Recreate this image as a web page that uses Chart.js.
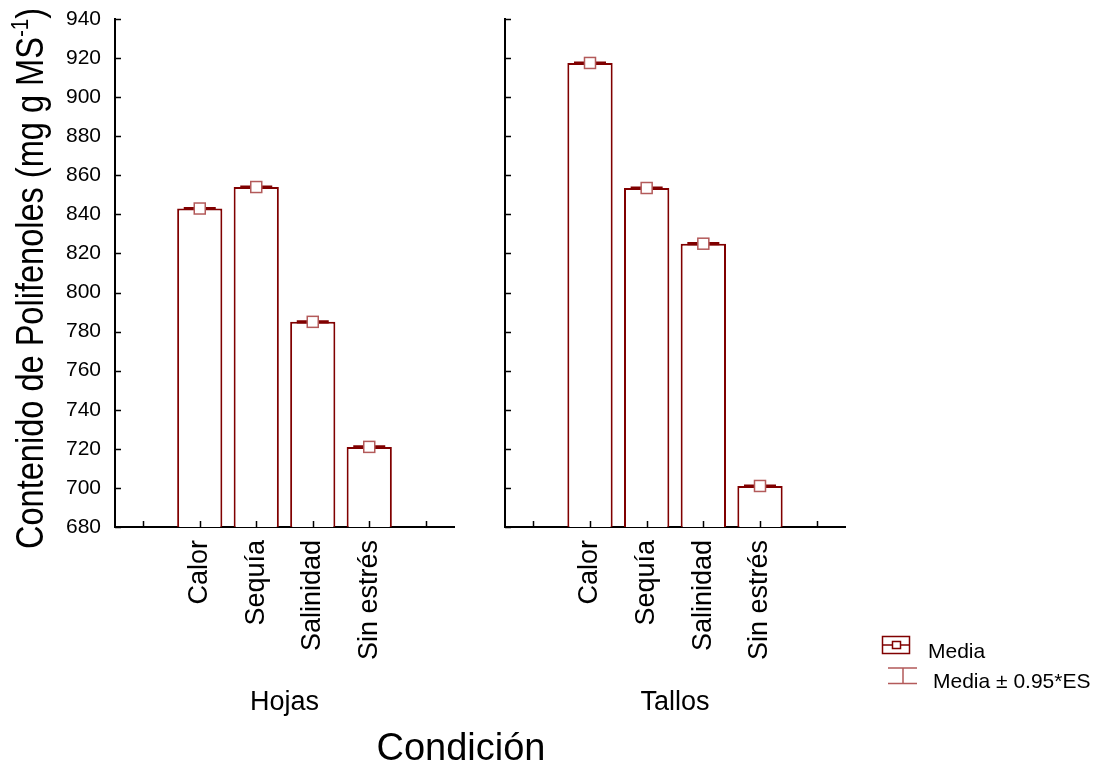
<!DOCTYPE html>
<html lang="es">
<head>
<meta charset="UTF-8">
<title>Contenido de Polifenoles</title>
<style>
  body { margin: 0; background: #fff; }
  #lienzo { position: relative; width: 1104px; height: 765px; }
  #lienzo canvas { position: absolute; left: 0; top: 0; }
</style>
</head>
<body>
<div id="lienzo">
  <canvas id="graficoHojas" width="1104" height="765"></canvas>
  <canvas id="graficoTallos" width="1104" height="765"></canvas>
</div>
<script src="https://cdn.jsdelivr.net/npm/chart.js"></script>
<script>
  // datos (las posiciones vacías dejan medio hueco a cada lado, como en el original)
  const categorias = ['', 'Calor', 'Sequía', 'Salinidad', 'Sin estrés', ''];
  const mediaHojas = [null, 843, 854, 785, 721, null];
  const mediaTallos = [null, 917.5, 853.5, 825, 701, null];
  const errorHojas = [null, 0.3, 0.3, 0.3, 0.3, null];
  const errorTallos = [null, 0.3, 0.3, 0.3, 0.3, null];
  const ejeY = { min: 680, max: 940, paso: 20 };

  const rojo = '#800000';
  const rosa = '#b35a5a';
  const fuente = '"Liberation Sans", Arial, sans-serif';
  Chart.defaults.font.family = fuente;
  Chart.defaults.color = '#000';

  // media (cuadrado) y barras de error
  const marcas = {
    id: 'marcas',
    afterDatasetsDraw(chart, args, opts) {
      const ctx = chart.ctx;
      const y = chart.scales.y;
      const datos = chart.data.datasets[0].data;
      chart.getDatasetMeta(0).data.forEach((barra, i) => {
        const v = datos[i];
        if (v == null) return;
        const e = opts.errores[i];
        const x = barra.x;
        const ya = y.getPixelForValue(v + e);
        const yb = y.getPixelForValue(v - e);
        ctx.save();
        ctx.strokeStyle = rojo;
        ctx.lineWidth = 2;
        ctx.beginPath();
        ctx.moveTo(x - 16, ya); ctx.lineTo(x + 16, ya);
        ctx.moveTo(x - 16, yb); ctx.lineTo(x + 16, yb);
        ctx.moveTo(x, ya); ctx.lineTo(x, yb);
        ctx.stroke();
        const ym = y.getPixelForValue(v);
        ctx.fillStyle = '#fff';
        ctx.fillRect(x - 5.5, ym - 5.5, 11, 11);
        ctx.strokeStyle = rosa;
        ctx.lineWidth = 1.5;
        ctx.strokeRect(x - 5.5, ym - 5.5, 11, 11);
        ctx.restore();
      });
    }
  };

  // marcas de los ejes hacia dentro
  const marcasEje = {
    id: 'marcasEje',
    afterDraw(chart) {
      const ctx = chart.ctx;
      const x = chart.scales.x;
      const y = chart.scales.y;
      const area = chart.chartArea;
      ctx.save();
      ctx.strokeStyle = '#000';
      ctx.lineWidth = 1.5;
      ctx.beginPath();
      y.ticks.forEach((t, i) => {
        const py = Math.round(y.getPixelForTick(i)) + 0.5;
        ctx.moveTo(area.left, py); ctx.lineTo(area.left + 6, py);
      });
      x.ticks.forEach((t, i) => {
        const px = Math.round(x.getPixelForTick(i)) + 0.5;
        ctx.moveTo(px, area.bottom); ctx.lineTo(px, area.bottom - 6);
      });
      ctx.stroke();
      ctx.restore();
    }
  };

  // título del eje Y con superíndice
  const tituloY = {
    id: 'tituloY',
    afterDraw(chart) {
      const ctx = chart.ctx;
      const texto = 'Contenido de Polifenoles (mg g MS';
      const sup = '-1';
      const cierre = ')';
      ctx.save();
      ctx.fillStyle = '#000';
      ctx.font = '38px ' + fuente;
      const w1 = ctx.measureText(texto).width;
      const w3 = ctx.measureText(cierre).width;
      ctx.font = '24px ' + fuente;
      const w2 = ctx.measureText(sup).width;
      const escala = 541 / (w1 + w2 + w3);
      ctx.translate(43, 549);
      ctx.rotate(-Math.PI / 2);
      ctx.scale(escala, 1);
      ctx.textBaseline = 'alphabetic';
      ctx.font = '38px ' + fuente;
      ctx.fillText(texto, 0, 0);
      ctx.fillText(cierre, w1 + w2, 0);
      ctx.font = '24px ' + fuente;
      ctx.fillText(sup, w1, -15);
      ctx.restore();
    }
  };

  // leyenda y título común del eje X
  const extras = {
    id: 'extras',
    afterDraw(chart) {
      const ctx = chart.ctx;
      ctx.save();
      ctx.fillStyle = '#000';
      ctx.font = '38px ' + fuente;
      ctx.textAlign = 'center';
      ctx.textBaseline = 'alphabetic';
      ctx.fillText('Condición', 461, 760);

      ctx.strokeStyle = rojo;
      ctx.lineWidth = 1.5;
      ctx.strokeRect(882.5, 636.5, 27, 17);
      ctx.beginPath();
      ctx.moveTo(882, 645); ctx.lineTo(892, 645);
      ctx.moveTo(901, 645); ctx.lineTo(910, 645);
      ctx.stroke();
      ctx.strokeRect(892.5, 641.5, 8, 7);

      ctx.strokeStyle = rosa;
      ctx.beginPath();
      ctx.moveTo(888, 668); ctx.lineTo(917, 668);
      ctx.moveTo(888, 683.5); ctx.lineTo(917, 683.5);
      ctx.moveTo(903, 668); ctx.lineTo(903, 683);
      ctx.stroke();

      ctx.font = '21px ' + fuente;
      ctx.textAlign = 'left';
      ctx.fillText('Media', 928, 658);
      ctx.fillText('Media ± 0.95*ES', 933, 688);
      ctx.restore();
    }
  };

  function crearGrafico(id, medias, errores, grupo, etiquetasY, padding, anchoY, plugins) {
    return new Chart(document.getElementById(id), {
      type: 'bar',
      data: {
        labels: categorias,
        datasets: [{
          data: medias,
          backgroundColor: '#ffffff',
          borderColor: rojo,
          borderWidth: 2,
          borderSkipped: false,
          barPercentage: 0.8,
          categoryPercentage: 1
        }]
      },
      options: {
        responsive: false,
        animation: false,
        layout: { padding: padding },
        plugins: {
          legend: { display: false },
          tooltip: { enabled: false },
          marcas: { errores: errores }
        },
        scales: {
          x: {
            grid: { display: false, drawTicks: false },
            border: { display: true, color: '#000', width: 2 },
            ticks: {
              autoSkip: false,
              minRotation: 90,
              maxRotation: 90,
              padding: 13,
              font: { size: 27 }
            },
            title: {
              display: true,
              text: grupo,
              font: { size: 27 },
              padding: { top: 0, bottom: 8 }
            },
            afterFit(scale) {
              scale.height = 200;
              scale.paddingLeft = 0;
              scale.paddingRight = 0;
            }
          },
          y: {
            min: ejeY.min,
            max: ejeY.max,
            grid: { display: false, drawTicks: false },
            border: { display: true, color: '#000', width: 2 },
            ticks: {
              display: etiquetasY,
              stepSize: ejeY.paso,
              padding: 14,
              font: { size: 21 }
            },
            afterFit(scale) {
              scale.width = anchoY;
              scale.paddingTop = 0;
              scale.paddingBottom = 0;
            }
          }
        }
      },
      plugins: plugins
    });
  }

  crearGrafico('graficoHojas', mediaHojas, errorHojas, 'Hojas', true,
    { left: 0, top: 19, right: 650, bottom: 38 }, 115, [marcas, marcasEje, tituloY]);
  crearGrafico('graficoTallos', mediaTallos, errorTallos, 'Tallos', false,
    { left: 485, top: 19, right: 259, bottom: 38 }, 20, [marcas, marcasEje, extras]);
</script>
</body>
</html>
